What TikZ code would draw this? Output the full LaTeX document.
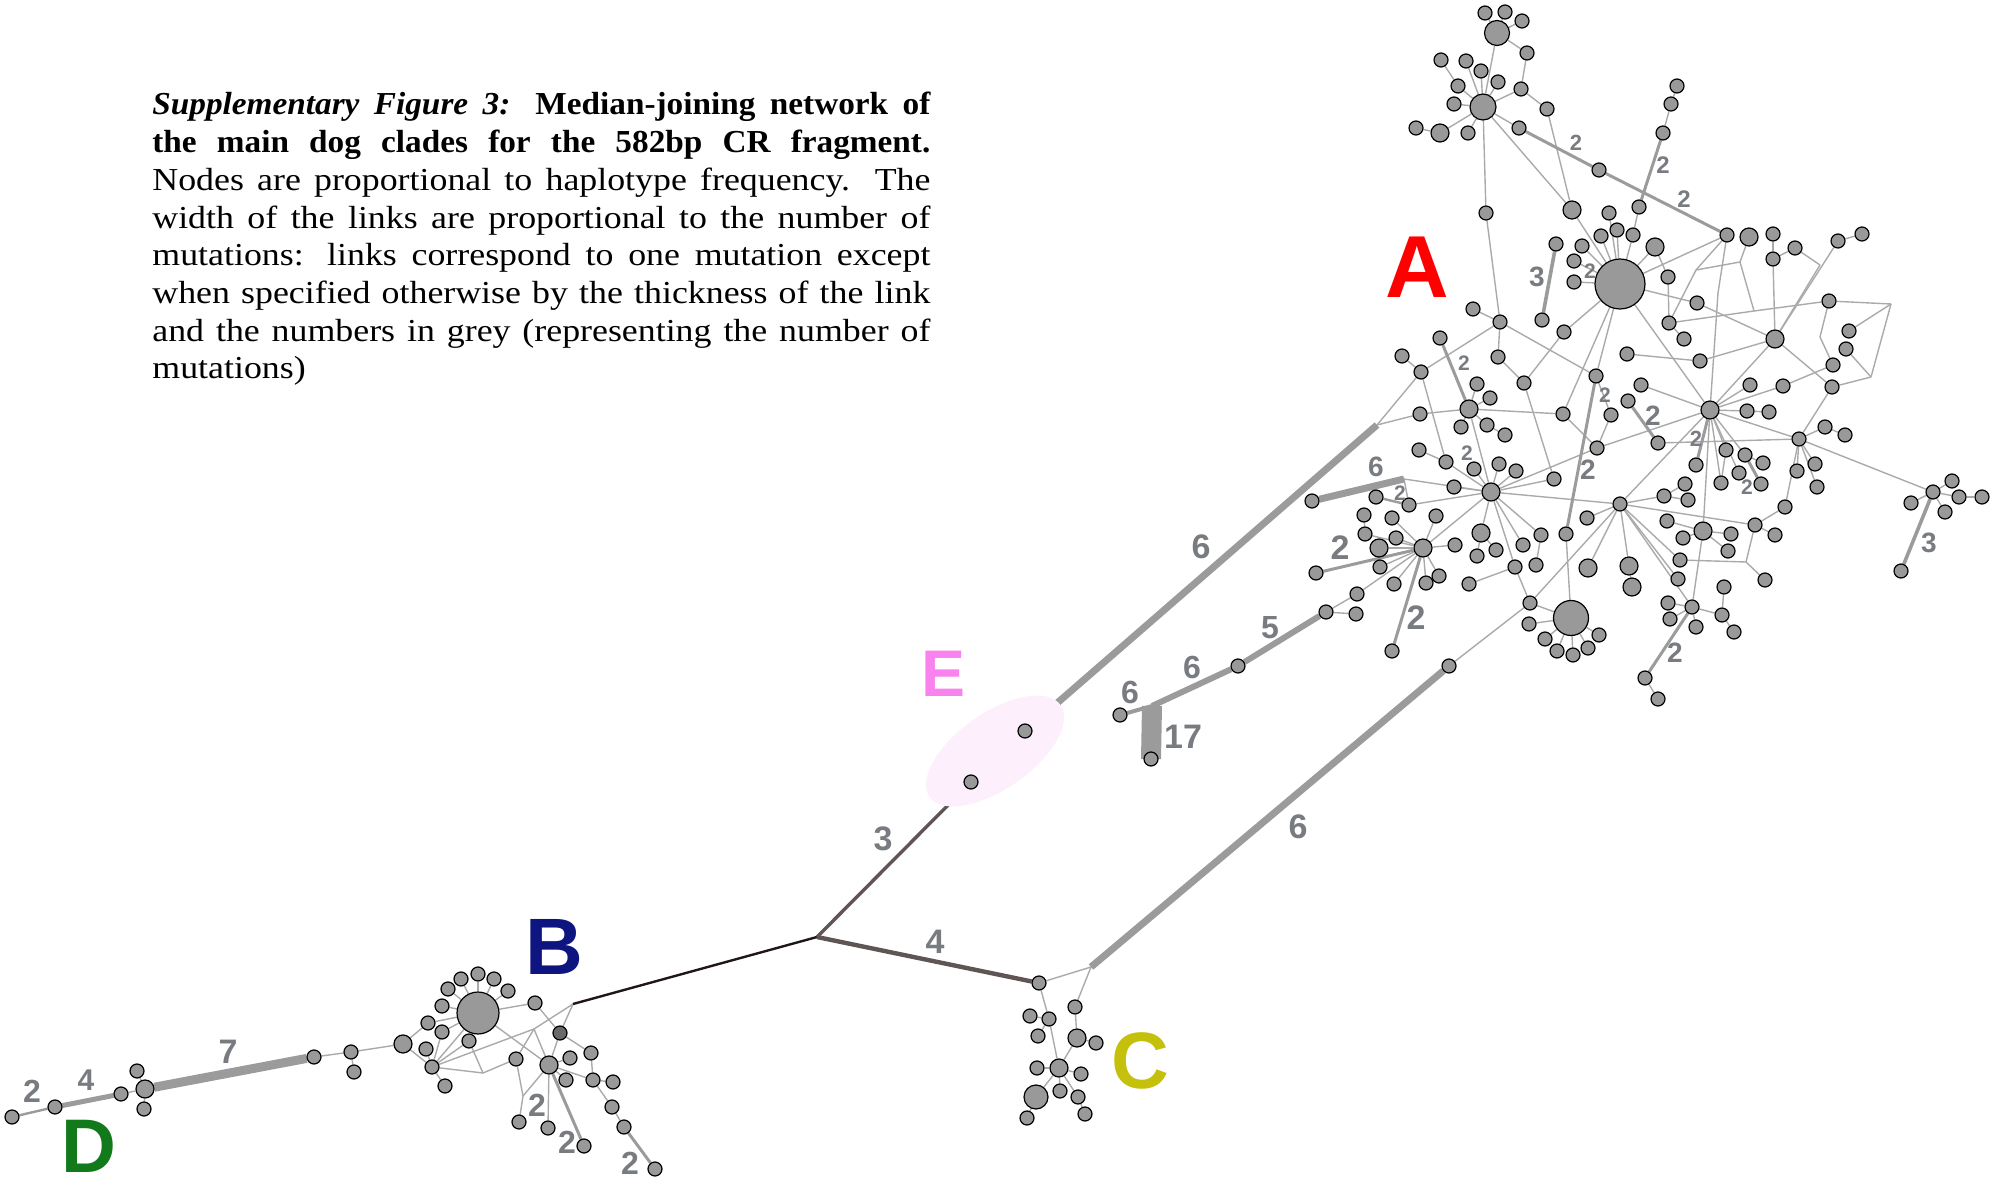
\documentclass[tikz,border=0pt]{standalone}
\usepackage{fontspec}
\setmainfont{Liberation Serif}
\newfontfamily\capfont[FakeStretch=1.12]{Liberation Serif}
\newfontfamily\capbold[FakeStretch=1.04]{Liberation Serif}
\newfontfamily\labelfont{Liberation Sans}
\usetikzlibrary{backgrounds}

\definecolor{hapgrey}{RGB}{153,153,153}
\definecolor{hapdark}{RGB}{105,105,105}
\definecolor{linkgrey}{RGB}{170,170,170}
\definecolor{mutgrey}{RGB}{155,155,155}
\definecolor{numgrey}{RGB}{120,124,128}
\definecolor{stemdark}{RGB}{32,22,22}
\definecolor{stemmid}{RGB}{95,85,85}
\definecolor{stemlight}{RGB}{140,125,140}
\definecolor{cladeA}{RGB}{255,0,0}
\definecolor{cladeB}{RGB}{14,20,128}
\definecolor{cladeC}{RGB}{196,192,12}
\definecolor{cladeD}{RGB}{18,122,26}
\definecolor{cladeE}{RGB}{250,130,238}
\definecolor{efill}{RGB}{253,239,252}

\begin{document}
\begin{tikzpicture}[
  x=0.5pt, y=-0.5pt,
  hap/.style={circle, draw=black, fill=hapgrey, line width=0.6pt, inner sep=0pt, minimum size=7pt},
  hapm/.style={hap, minimum size=9pt},
  hapl/.style={hap, minimum size=12.5pt},
  lnk/.style={draw=linkgrey, line width=0.7pt},
  mut/.style={draw=mutgrey, line width=#1},
  num/.style={text=numgrey, inner sep=0pt, font=\labelfont\bfseries\fontsize{#1}{#1}\selectfont},
  num/.default=14,
  numsm/.style={num=10.5},
  numlg/.style={num=17},
  clade/.style={inner sep=0pt, font=\labelfont\bfseries\fontsize{#1}{#1}\selectfont},
  caption/.style={anchor=north west, inner sep=0pt, text width=389pt, align=justify,
    font=\capfont\fontsize{16}{18.85}\selectfont}
]
\clip (0,0) rectangle (1993,1187);

% caption
\node[caption] (cap) at (152,92) {{\capbold\bfseries\itshape Supplementary Figure 3:} {\capbold\bfseries Median-joining network of}\linebreak
{\capbold\bfseries the main dog clades for the 582bp CR fragment.}\linebreak
Nodes are proportional to haplotype frequency. The\linebreak
width of the links are proportional to the number of\linebreak
mutations: links correspond to one mutation except\linebreak
when specified otherwise by the thickness of the link\linebreak
and the numbers in grey (representing the number of\linebreak
mutations)};

% clade letters
\node[clade=44, text=cladeA] (labA) at (1417,267) {A};
\node[clade=40, text=cladeB] (labB) at (554,947) {B};
\node[clade=40, text=cladeC] (labC) at (1140,1061) {C};
\node[clade=38, text=cladeD] (labD) at (89,1146) {D};
\node[clade=33, text=cladeE] (labE) at (944,674) {E};

% E highlight
\fill[efill, rotate around={35:(995,751)}] (995,751) ellipse [x radius=80, y radius=38];

% large haplotypes
\node[hapl] (a1) at (1497,33) {};
\node[hapl, minimum size=13pt] (a2) at (1483,107) {};
\node[hap, minimum size=25pt] (A0) at (1620,284) {};
\node[hap, minimum size=17.5pt] (bA2) at (1571,618) {};
\node[hap, minimum size=21pt] (bB) at (478,1013) {};
\node[hap, minimum size=12pt] (c15) at (1036,1097) {};
\node[hap, fill=hapdark] (b14) at (560,1033) {};

% medium haplotypes
\foreach \n/\x/\y in {t13/1440/133, t18/1572/210, u5/1655/247, r2/1749/237, r9/1775/339,
  hA2/1710/410, z2/1469/409, hA3/1491/492, hA4/1423/548, q5/1379/548, z19/1481/533,
  z28/1588/568, z29/1629/566, z30/1632/587, x5/1703/531, c6/1077/1038, c12/1059/1068,
  b11/403/1044, b28/549/1065, d4/145/1089}
  \node[hapm] (\n) at (\x,\y) {};

% small haplotypes
\foreach \n/\x/\y in {t1/1485/13, t2/1505/12, t3/1522/21, t4/1527/53, t5/1441/60, t6/1466/61,
  t7/1481/71, t8/1458/86, t9/1498/82, t10/1521/89, t11/1454/104, t12/1416/128, t14/1468/133,
  t15/1519/128, t16/1547/109, t17/1486/213, t19/1599/170, t20/1677/86, t21/1671/104,
  t22/1663/133, t23/1639/207,
  u1/1609/213, u2/1617/230, u3/1601/236, u4/1633/235, u6/1556/244, u7/1582/246, u8/1574/261,
  u9/1574/282, u10/1668/277, u11/1542/320, u12/1564/332, u13/1697/303, u14/1669/323,
  u15/1684/339, u16/1627/354, u17/1700/361,
  v1/1500/322, v2/1473/309, v3/1440/338, v4/1402/356, v5/1421/372, v6/1498/357, v7/1524/383,
  v8/1596/376, v9/1563/414, v10/1597/448,
  r1/1727/235, r3/1773/234, r4/1773/259, r5/1795/248, r6/1838/241, r7/1862/234, r8/1829/301,
  r10/1849/331, r11/1846/349, r12/1833/365, r13/1832/387,
  w1/1641/385, w2/1628/401, w3/1611/415, w4/1750/385, w5/1783/386, w6/1747/411, w7/1769/412,
  w8/1825/427, w9/1845/435, w10/1799/439, w11/1658/443, w12/1696/465, w13/1726/450,
  w14/1745/455, w15/1763/463, w16/1721/483, w17/1739/473, w18/1761/484, w19/1797/471,
  w20/1815/464, w21/1817/487, w22/1785/507,
  x1/1664/496, x2/1685/484, x3/1688/500, x4/1667/521, x6/1683/538, x7/1731/534, x8/1728/551,
  x9/1755/525, x10/1775/535, x11/1765/580, x12/1680/560, x13/1678/579, x14/1724/587,
  y1/1668/603, y2/1670/619, y3/1696/627, y4/1722/615, y5/1734/632, y6/1645/678, y7/1658/699,
  z1/1420/414, z3/1477/384, z4/1490/398, z5/1461/427, z6/1487/425, z7/1505/435, z8/1419/450,
  z9/1446/462, z10/1474/469, z11/1499/464, z12/1516/471, z13/1454/487, z14/1554/479,
  z15/1312/501, z16/1376/497, z17/1409/505, z18/1436/516, z20/1477/556, z21/1496/550,
  z22/1523/545, z23/1541/535, z24/1566/534, z25/1587/518, z26/1515/567, z27/1536/565,
  z31/1469/584,
  q1/1392/518, q2/1364/515, q3/1365/534, q4/1396/538, q6/1455/545, q7/1316/573, q8/1380/567,
  q9/1394/584, q10/1426/583, q11/1439/576, q12/1357/594, q13/1326/612, q14/1356/614,
  q15/1392/651,
  p1/1530/603, p2/1529/624, p3/1545/639, p4/1557/651, p5/1573/655, p6/1588/648, p7/1599/635,
  s1/1952/481, s2/1959/497, s3/1982/497, s4/1911/503, s5/1945/512, s6/1901/571,
  hA5/1620/504, hA6/1692/607, hR/1933/492,
  m6/1120/715, m17/1151/759, m5/1238/666, nC/1449/666, e1/971/782, e2/1025/731,
  c1/1039/983, c2/1075/1007, c3/1049/1019, c4/1030/1016, c5/1038/1036, c7/1096/1043,
  c8/1037/1068, c9/1081/1074, c10/1060/1091, c11/1078/1097, c13/1027/1118, c14/1085/1114,
  b1/448/989, b2/461/979, b3/478/974, b4/494/979, b5/508/991, b6/442/1006, b7/428/1023,
  b8/442/1032, b9/469/1041, b10/426/1049, b12/445/1086, b13/535/1003, b15/516/1059,
  b16/570/1058, b17/566/1080, b18/591/1053, b19/593/1080, b20/613/1082, b21/612/1107,
  b22/624/1127, b23/655/1169, b24/519/1122, b25/548/1128, b26/584/1146, b27/432/1067,
  d1/12/1117, d2/55/1107, d3/121/1094, d5/137/1071, d6/144/1109, d7/314/1057, d8/351/1052,
  d9/354/1072}
  \node[hap] (\n) at (\x,\y) {};

% median vectors
\foreach \n/\x/\y in {hub/817/937, jB/573/1004, jB2/534/1029, jB3/483/1073, jB4/523/1096,
  jC/1091/967, jE/1377/425, jz6/1404/479, jm/1152/706, jx/1746/562,
  j1/1696/270, j2/1740/262, j3/1718/293, j4/1754/311, j5/1820/337, j6/1891/304, j7/1871/377,
  j8/1820/265}
  \coordinate (\n) at (\x,\y);

\begin{scope}[on background layer]
% one-mutation links
\foreach \a/\b in {a1/t1, a1/t2, a1/t3, a1/t4, a1/a2, a2/t6, a2/t7, a2/t8, a2/t9, a2/t10,
  a2/t11, a2/t13, a2/t14, a2/t15, t5/t8, t12/t13, t10/t4, t10/t16, t16/t18, a2/t17, a2/t18,
  t20/t21, t21/t22, t23/u4, u4/A0, t18/A0, A0/u1, A0/u2, A0/u3, A0/u5, A0/u7, A0/u8, A0/u9,
  u5/u10, u10/u14, A0/r1, A0/u13, A0/u12, A0/hA2, A0/v8, A0/v9, t17/v1, v1/v2, v1/v5, v1/v6,
  v1/v8, v4/v5, jE/v5, jE/z1, v5/z9, u12/v7, v6/v7, v7/z14, v9/v10, v10/w3, v10/hA3,
  v10/hA2, w1/hA2, u13/r9, u17/r9, u16/u17, u14/u15, hA2/w4, hA2/w5, hA2/w6, w6/w7,
  hA2/w10, hA2/w13, hA2/w14, hA2/w16, hA2/w17, hA2/hA5, hA2/r9, hA2/j3, hA2/x5, w14/w15,
  w13/w16, w11/w10, w10/w8, w8/w9, w10/r13, w10/w19, w10/w20, w10/w21, w10/w22, w10/hR,
  w22/x9, x9/x10, x9/jx, jx/x11, jx/x12, hA5/x9, hA5/x1, x1/x2, x1/x3, hA5/x12, hA5/x13,
  hA5/z25, hA5/hA3, hA5/p1, hA5/z28, hA5/hA6, hA5/z29, z29/z30, x5/x4, x5/x6, x5/x7, x5/x8,
  x5/hA6, hA6/y1, hA6/y2, hA6/y3, hA6/y4, y4/x14, y4/y5, y6/y7, bA2/p1, bA2/p2, bA2/p3,
  bA2/p4, bA2/p5, bA2/p6, bA2/p7, bA2/z24, p1/nC, p1/z26, hA3/z2, hA3/z9, hA3/z10, hA3/z11,
  hA3/z12, hA3/z13, hA3/z17, hA3/hA4, hA3/z19, hA3/z22, hA3/z23, hA3/z14, hA3/jz6, hA3/z26,
  z8/z9, z2/z1, z2/z3, z2/z4, z2/z5, z2/z6, z6/z7, z2/v9, jz6/z17, z19/z20, z19/z21,
  z31/z26, z27/z23, hA4/q1, hA4/q3, hA4/q4, hA4/q5, hA4/q6, hA4/q8, hA4/q9, hA4/q10,
  hA4/q11, hA4/z18, hA4/q12, q2/q3, q12/q13, q13/q14, r1/j1, j1/u14, j1/j2, r2/j2, j2/j4,
  j4/u14, j4/r8, r1/j3, r3/r4, r4/r5, r4/r9, r5/j8, j8/r9, r6/r9, r6/r7, r8/j6, r8/j5,
  j5/r12, j6/r10, j6/j7, j7/r11, j7/r13, r9/r13, w5/r12, hR/s1, hR/s2, s2/s3, hR/s4, hR/s5,
  v8/w3,
  c1/jC, c1/c3, c3/c12, jC/c2, c2/c6, c6/c7, c6/c12, c4/c3, c5/c3, c12/c8, c12/c9, c12/c10,
  c12/c11, c11/c14, c12/c15, c15/c13,
  jB/jB2, jB/b14, bB/b13, b13/b14, jB2/b27, jB2/b15, jB2/b28, bB/b28, b14/b28, b14/b18,
  b18/b19, b19/b21, b21/b22, b28/b16, b28/b17, b28/b19, b28/jB4, jB4/b15, b15/jB3, jB3/b27,
  jB3/b9, b19/b20, bB/b1, bB/b2, bB/b3, bB/b4, bB/b5, bB/b6, bB/b8, bB/b9, b27/b8, b27/b9,
  b27/b10, b27/bB, b27/b12, b11/b7, b11/b27, b7/bB, b11/d8, jB4/b24, b28/b25,
  d3/d4, d4/d5, d4/d6, d7/d8, d8/d9}
  \draw[lnk] (\a) -- (\b);

% links with several mutations
\foreach \a/\b in {t15/t19, t19/r1, t22/t23, v3/z2, v8/z24, w2/w11, hA2/w12, w14/w18,
  hA4/q7, hA4/q15, hA6/y6, b28/b26, b22/b23}
  \draw[mut=1.5pt] (\a) -- (\b);
\draw[mut=1.2pt] (z16) -- (z17);
\draw[mut=1.2pt] (d1) -- (d2);
\draw[mut=1.8pt] (u6) -- (u11);
\draw[mut=1.8pt] (hR) -- (s6);
\draw[mut=3.5pt] (e2) -- (jE);
\draw[mut=3.5pt] (jC) -- (nC);
\draw[mut=3.5pt] (jz6) -- (z15);
\draw[mut=3pt] (jm) -- (m5);
\draw[mut=2pt] (jm) -- (m6);
\draw[mut=3pt] (m5) -- (q13);
\draw[mut=10pt] (jm) -- (m17.center);
\draw[mut=2.5pt] (d2) -- (d3);
\draw[mut=4.5pt] (d4) -- (d7);

% stem
\draw[stemdark, line width=1.2pt] (hub) -- (jB);
\draw[stemmid, line width=1.7pt] (hub) -- (e1);
\draw[stemmid, line width=2.2pt] (hub) -- (c1);
\draw[stemlight, line width=0.5pt] (e1) -- (e2);
\end{scope}

% mutation numbers
\node[numlg] (n6e) at (1201,547) {6};
\node[numlg] (n3e) at (883,839) {3};
\node[numlg] (n4c) at (935,942) {4};
\node[numlg] (n6c) at (1298,827) {6};
\node[num=16] (n6m) at (1130,692) {6};
\node[numlg] (n17) at (1183,737) {17};
\node[num=16] (n6n) at (1192,667) {6};
\node[num=16] (n5m) at (1270,628) {5};
\node[num=16] (n2b1) at (537,1105) {2};
\node[num=16] (n2b2) at (567,1142) {2};
\node[num=16] (n2b3) at (630,1163) {2};
\node[numlg] (n7d) at (228,1052) {7};
\node[num=15] (n4d) at (86,1080) {4};
\node[num=16] (n2d) at (32,1091) {2};
\foreach \n/\x/\y/\t in {na4/1537/277/3, na5/1653/416/2, na6/1376/467/6, na7/1588/470/2,
  na10/1675/653/2, na11/1929/543/3}
  \node[num] (\n) at (\x,\y) {\t};
\node[num=11] (na1) at (1576,143) {2};
\node[num=12] (na2) at (1663,165) {2};
\node[num=12] (na3) at (1684,199) {2};
\node[numlg] (na8) at (1340,548) {2};
\node[numlg] (na9) at (1416,618) {2};
\node[num=11] (nb1) at (1696,439) {2};
\foreach \n/\x/\y in {ns1/1590/271, ns2/1464/363, ns3/1605/395, ns4/1467/453, ns5/1400/493,
  ns6/1747/487}
  \node[numsm] (\n) at (\x,\y) {2};
\end{tikzpicture}
\end{document}
